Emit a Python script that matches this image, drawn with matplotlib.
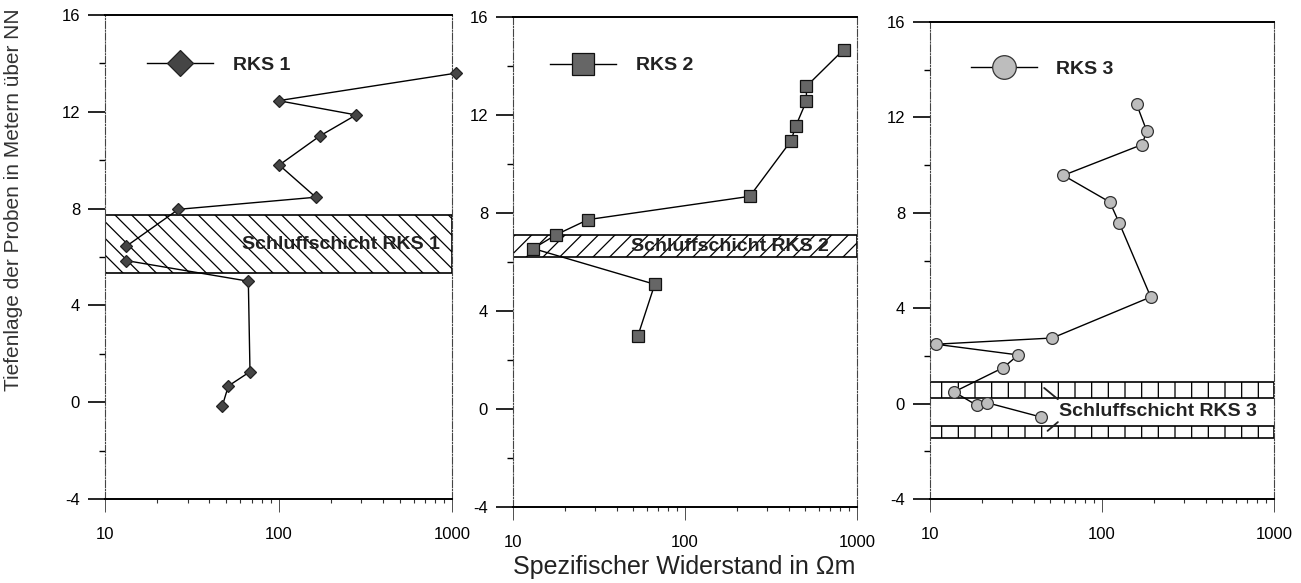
import numpy as np
import matplotlib.pyplot as plt
from matplotlib.ticker import FixedLocator, NullFormatter, LogLocator

plt.rcParams['font.family'] = ['Liberation Sans', 'DejaVu Sans']
plt.rcParams['hatch.linewidth'] = 0.9

# resistivity [Ohm m] and depth [m NN] per borehole; nan breaks the line
rks1_rho = [1060, 100, 280, 173, 101, 164, 26.5, 13.3, np.nan, 13.3, 67, 68.5, 51.4, 47.5]
rks1_z = [13.6, 12.46, 11.87, 11.0, 9.8, 8.47, 7.97, 6.45, np.nan, 5.85, 5.0, 1.26, 0.67, -0.14]

rks2_rho = [837, 508, 508, 440, 413, 238, 27.3, 17.9, 13.1, 66.7, 53.3]
rks2_z = [14.67, 13.17, 12.57, 11.54, 10.94, 8.68, 7.73, 7.12, 6.55, 5.09, 3.0]

rks3_rho = [159, 182, 171, 59.6, 111, 126, 192, 51.4, 10.8, 32.6, 26.7, 13.8, 18.7, 21.4, 44]
rks3_z = [12.55, 11.43, 10.86, 9.57, 8.45, 7.57, 4.47, 2.75, 2.49, 2.04, 1.51, 0.49, -0.07, 0.04, -0.56]

# silt layers (bottom, top) in m NN
silt1 = [(5.33, 7.74)]
silt2 = [(6.2, 7.12)]
silt3 = [(0.25, 0.91), (-1.43, -0.94)]

y_major = [-4, 0, 4, 8, 12, 16]
y_minor = [-2, 2, 6, 10, 14]


def style_axis(ax):
    ax.set_xscale('log')
    ax.set_xlim(10, 1000)
    ax.set_ylim(-4, 16)
    ax.xaxis.set_major_locator(FixedLocator([10, 100, 1000]))
    ax.xaxis.set_minor_locator(LogLocator(base=10, subs=np.arange(2, 10)))
    ax.xaxis.set_minor_formatter(NullFormatter())
    ax.set_xticklabels(['10', '100', '1000'])
    ax.yaxis.set_major_locator(FixedLocator(y_major))
    ax.yaxis.set_minor_locator(FixedLocator(y_minor))
    ax.set_yticklabels([str(v) for v in y_major])
    ax.tick_params(axis='x', which='major', direction='out', length=9, width=0.6,
                   pad=11, labelsize=12, color='#333333')
    ax.tick_params(axis='x', which='minor', direction='out', length=3, width=0.8,
                   color='#333333')
    ax.tick_params(axis='y', which='major', direction='out', length=12, width=1.2,
                   pad=6, labelsize=12)
    ax.tick_params(axis='y', which='minor', direction='out', length=4.5, width=1.0)
    for s in ('top', 'bottom'):
        ax.spines[s].set_linewidth(1.4)
    for s in ('left', 'right'):
        ax.spines[s].set_linestyle('-.')
        ax.spines[s].set_linewidth(0.8)
        ax.spines[s].set_color('#444444')


fig = plt.figure(figsize=(13.01, 5.83), dpi=100)
W, H = 1301, 583

def add_panel(left, right, top, bottom):
    return fig.add_axes([left / W, 1 - bottom / H, (right - left) / W, (bottom - top) / H])

ax1 = add_panel(105, 452, 15, 499)
ax2 = add_panel(513, 857, 17, 507)
ax3 = add_panel(930, 1274, 22, 499)

panels = [
    (ax1, rks1_rho, rks1_z, 'RKS 1', dict(marker='D', ms=6.5, mfc='#454545', mec='#222222'),
     silt1, '\\\\', (0.121, 0.897)),
    (ax2, rks2_rho, rks2_z, 'RKS 2', dict(marker='s', ms=8, mfc='#666666', mec='#111111'),
     silt2, '//', (0.108, 0.901)),
    (ax3, rks3_rho, rks3_z, 'RKS 3', dict(marker='o', ms=8.5, mfc='#bdbdbd', mec='#333333'),
     silt3, '|', (0.118, 0.902)),
]

for ax, rho, z, name, mstyle, silt, hatch, leg_pos in panels:
    style_axis(ax)
    for lo, hi in silt:
        ax.axhspan(lo, hi, fill=False, hatch=hatch, edgecolor='black', lw=1.2, zorder=1)
    ax.plot(rho, z, color='black', lw=1.0, mew=0.9, label=name, zorder=3,
            clip_on=False, **mstyle)
    ax.legend(loc='center left', bbox_to_anchor=leg_pos, frameon=False, borderpad=0,
              borderaxespad=0, handlelength=3.4, handletextpad=1.0, markerscale=2.0,
              prop={'size': 14, 'weight': 'bold'}, labelcolor='#222222')

bold = dict(fontsize=14, fontweight='bold', color='#222222', va='center', ha='center', zorder=4)
ax1.text(230, 6.5, 'Schluffschicht RKS 1', **bold)
ax2.text(182, 6.62, 'Schluffschicht RKS 2', **bold)
ax3.text(212, -0.35, 'Schluffschicht RKS 3', **bold)

# leader lines from the label to both silt layers
ax3.annotate('', xy=(44.8, 0.73), xytext=(57, 0.11),
             arrowprops=dict(arrowstyle='-', lw=1.3, color='#222222'))
ax3.annotate('', xy=(46.9, -1.22), xytext=(57, -0.70),
             arrowprops=dict(arrowstyle='-', lw=1.3, color='#222222'))

fig.text(14 / W, 1 - 200 / H, 'Tiefenlage der Proben in Metern über NN', rotation=90,
         fontsize=15, color='#333333', ha='center', va='center')
fig.text(684 / W, 1 - 567 / H, 'Spezifischer Widerstand in Ωm', fontsize=18,
         color='#222222', ha='center', va='center')

fig.savefig('out.png', dpi=100)
